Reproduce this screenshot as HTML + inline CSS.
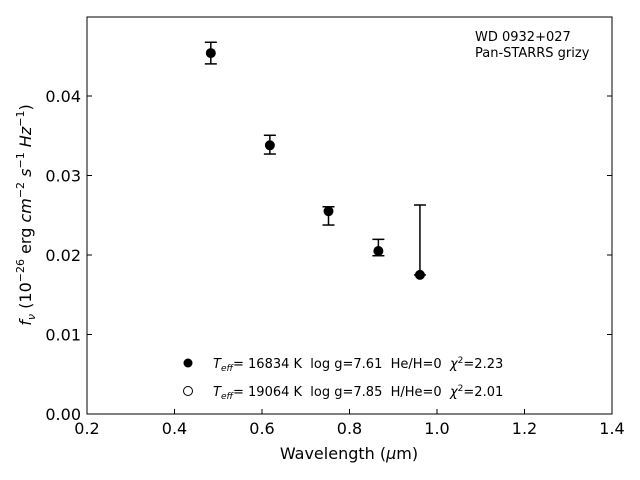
<!DOCTYPE html>
<html><head><meta charset="utf-8"><style>
body{margin:0;background:#fff}
svg{display:block;font-family:"DejaVu Sans","Liberation Sans",sans-serif}
svg text{white-space:pre}
</style></head><body>
<svg id="chart" width="640" height="480" viewBox="0 0 640 480">
<rect x="87" y="17" width="525" height="397" fill="none" stroke="#000" stroke-width="1"/>
<g id="ticks"></g><g id="marks"></g>
<text x="349" y="459" font-size="16" text-anchor="middle">Wavelength (<tspan font-style="italic">μ</tspan>m)</text>
<text transform="translate(31,215) rotate(-90)" font-size="16" text-anchor="middle"><tspan font-style="italic">f</tspan><tspan font-size="11" font-style="italic" dy="4">ν</tspan><tspan dy="-4"> (10</tspan><tspan font-size="11" dy="-7">−26</tspan><tspan dy="7"> erg </tspan><tspan font-style="italic">cm</tspan><tspan font-size="11" dy="-7">−2</tspan><tspan dy="7"> </tspan><tspan font-style="italic">s</tspan><tspan font-size="11" dy="-7">−1</tspan><tspan dy="7"> </tspan><tspan font-style="italic">Hz</tspan><tspan font-size="11" dy="-7">−1</tspan><tspan dy="7">)</tspan></text>
<text x="475" y="41" font-size="13">WD 0932+027</text>
<text x="475" y="57" font-size="13">Pan-STARRS grizy</text>
<g>
<circle cx="188" cy="363" r="4.5" fill="#000"/>
<text x="213" y="368" font-size="13"><tspan font-style="italic">T</tspan><tspan font-size="9" font-style="italic" dy="3">eff</tspan><tspan dy="-3">= 16834 K  log g=7.61  He/H=0  </tspan><tspan font-style="italic">χ</tspan><tspan font-size="9" dy="-5">2</tspan><tspan dy="5">=2.23</tspan></text>
<circle cx="188" cy="391" r="4.5" fill="#fff" stroke="#000"/>
<text x="213" y="396" font-size="13"><tspan font-style="italic">T</tspan><tspan font-size="9" font-style="italic" dy="3">eff</tspan><tspan dy="-3">= 19064 K  log g=7.85  H/He=0  </tspan><tspan font-style="italic">χ</tspan><tspan font-size="9" dy="-5">2</tspan><tspan dy="5">=2.01</tspan></text>
</g>
</svg>
<script>
const wavelengths=[0.483,0.618,0.752,0.866,0.961];
const obsFlux=[0.0454,0.03388,0.02492,0.02094,0.02189];
const obsErr=[0.00136,0.00118,0.00115,0.00103,0.0044];
const modelHe=[0.0454,0.0338,0.0255,0.0205,0.0175];
const modelH=[0.0454,0.0338,0.0255,0.0205,0.0175];
const xTicks=[0.2,0.4,0.6,0.8,1.0,1.2,1.4];
const yTicks=[0,0.01,0.02,0.03,0.04];
const X=v=>87+(v-0.2)*437.5;
const Y=v=>414-v*7950;
const NS="http://www.w3.org/2000/svg";
function mk(p,tag,a){const e=document.createElementNS(NS,tag);for(const k in a)e.setAttribute(k,a[k]);p.appendChild(e);return e;}
const tk=document.getElementById('ticks'),mg=document.getElementById('marks');
xTicks.forEach(v=>{const x=X(v);
const l=mk(tk,'line',{x1:x,x2:x,y1:414,y2:409,stroke:'#000'});


const t=mk(tk,'text',{x:x,y:434,'font-size':16,'text-anchor':'middle'});t.textContent=v.toFixed(1);

});
yTicks.forEach(v=>{const y=Y(v);
const l=mk(tk,'line',{x1:87,x2:92,y1:y,y2:y,stroke:'#000'});


const r=mk(tk,'line',{x1:607,x2:612,y1:y,y2:y,stroke:'#000'});


const t=mk(tk,'text',{x:81,y:y+6,'font-size':16,'text-anchor':'end'});t.textContent=v.toFixed(2);

});
wavelengths.forEach((w,i)=>{const x=X(w);
const g=mk(mg,'g',{stroke:'#000','stroke-width':1.5});


const t=Y(obsFlux[i]+obsErr[i]),b=Y(obsFlux[i]-obsErr[i]);
mk(g,'line',{x1:x,x2:x,y1:t,y2:b});mk(g,'line',{x1:x-6,x2:x+6,y1:t,y2:t});mk(g,'line',{x1:x-6,x2:x+6,y1:b,y2:b});
const o=mk(mg,'circle',{cx:x,cy:Y(modelH[i]),r:4.5,fill:'#fff',stroke:'#000'});


const f=mk(mg,'circle',{cx:x,cy:Y(modelHe[i]),r:4.5,fill:'#000'});

});
</script>
</body></html>
